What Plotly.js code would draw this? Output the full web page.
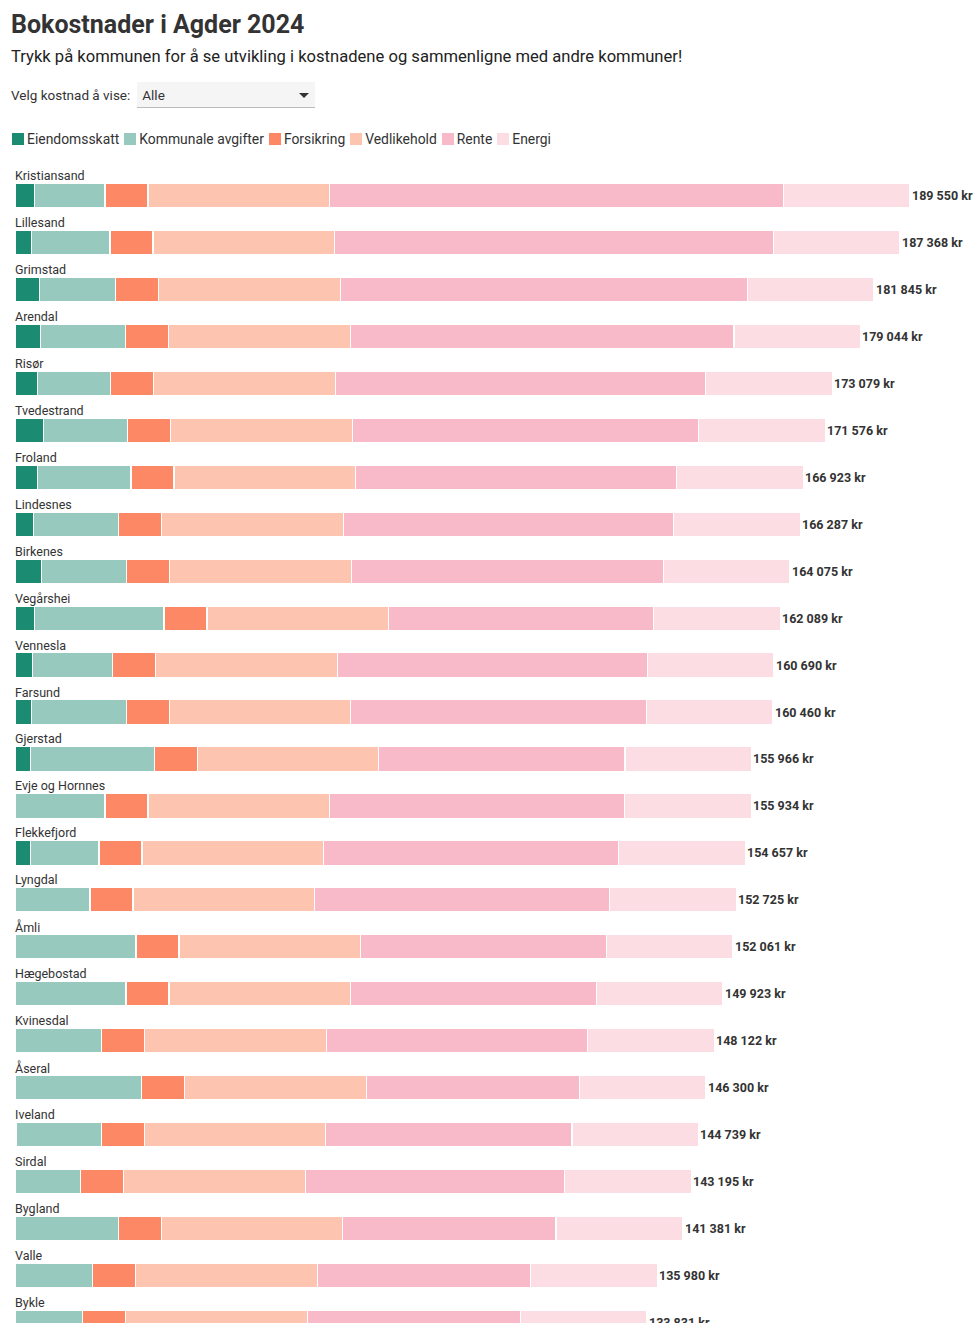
<!DOCTYPE html>
<html>
<head>
<meta charset="utf-8">
<script src="https://cdn.plot.ly/plotly-3.0.1.min.js"></script>
<style>
  html, body { margin: 0; padding: 0; background: #fff; overflow: hidden; }
  body { width: 980px; height: 1323px; position: relative; font-family: Roboto, "Noto Sans", sans-serif; color: #333; }
  #title { position: absolute; left: 11px; top: 9px; font-size: 25px; font-weight: 700; margin: 0; color: #333; line-height: 32px; }
  #sub { position: absolute; left: 11px; top: 46px; font-size: 16.6px; margin: 0; color: #222; line-height: 22px; }
  #ctl { position: absolute; left: 11px; top: 82px; height: 26px; display: flex; align-items: center; font-size: 13.5px; color: #333; }
  #sel { margin-left: 7px; width: 178px; height: 26px; background: #f5f5f5; border-bottom: 1px solid #bbb; box-sizing: border-box; position: relative; font-size: 13.5px; line-height: 26px; padding-left: 5px; }
  #sel .arr { position: absolute; right: 6px; top: 11px; width: 0; height: 0; border-left: 5px solid transparent; border-right: 5px solid transparent; border-top: 5px solid #333; }
  #legend { position: absolute; left: 12px; top: 131px; display: flex; font-size: 13.9px; color: #333; line-height: 16px; }
  #legend .it { display: flex; align-items: center; margin-right: 5px; }
  #legend .sw { width: 12px; height: 12px; margin-right: 3px; }
  #plot { position: absolute; left: 0; top: 0; width: 980px; height: 1367px; }
</style>
</head>
<body>
<div id="plot"></div>
<h1 id="title">Bokostnader i Agder 2024</h1>
<p id="sub">Trykk på kommunen for å se utvikling i kostnadene og sammenligne med andre kommuner!</p>
<div id="ctl">Velg kostnad å vise:<div id="sel">Alle<span class="arr"></span></div></div>
<div id="legend"></div>
<script>
const kommuner = ["Kristiansand","Lillesand","Grimstad","Arendal","Risør","Tvedestrand","Froland","Lindesnes","Birkenes","Vegårshei","Vennesla","Farsund","Gjerstad","Evje og Hornnes","Flekkefjord","Lyngdal","Åmli","Hægebostad","Kvinesdal","Åseral","Iveland","Sirdal","Bygland","Valle","Bykle"];

const eiendomsskatt = [4170,3430,5190,5400,4700,6040,4700,3850,5550,4190,3770,3560,3220,0,3280,0,0,0,0,0,250,0,0,0,0];
const kommunaleAvgifter = [14890,16690,16140,18050,15570,17830,19870,18110,18110,27360,16920,20010,26280,19060,14510,15890,25630,23510,18360,26830,18000,13920,21880,16460,14340];
const forsikring = [9100,9100,9100,9100,9100,9100,9100,9100,9100,9100,9100,9100,9100,9100,9100,9100,9100,9100,9100,9100,9100,9100,9100,9100,9100];
const vedlikehold = [38450,38450,38450,38450,38450,38450,38450,38450,38450,38450,38450,38450,38450,38450,38450,38450,38450,38450,38450,38450,38450,38450,38450,38450,38450];
const rente = [96140,92898,86165,81244,78459,73356,68003,69977,66065,56189,65650,62540,52116,62524,62517,62485,52081,52063,55412,45120,52139,54925,45151,45170,45141];
const energi = [26800,26800,26800,26800,26800,26800,26800,26800,26800,26800,26800,26800,26800,26800,26800,26800,26800,26800,26800,26800,26800,26800,26800,26800,26800];
const totaler = [189550,187368,181845,179044,173079,171576,166923,166287,164075,162089,160690,160460,155966,155934,154657,152725,152061,149923,148122,146300,144739,143195,141381,135980,133831];

const serier = [
  {navn: "Eiendomsskatt", verdier: eiendomsskatt, farge: "#1b8b71"},
  {navn: "Kommunale avgifter", verdier: kommunaleAvgifter, farge: "#98c9be"},
  {navn: "Forsikring", verdier: forsikring, farge: "#fd8866"},
  {navn: "Vedlikehold", verdier: vedlikehold, farge: "#fdc5af"},
  {navn: "Rente", verdier: rente, farge: "#f8b9c9"},
  {navn: "Energi", verdier: energi, farge: "#fcdde4"}
];

function fmt(n) { return String(n).replace(/\B(?=(\d{3})+(?!\d))/g, " "); }

const leg = document.getElementById("legend");
serier.forEach(s => {
  const it = document.createElement("div"); it.className = "it";
  const sw = document.createElement("div"); sw.className = "sw"; sw.style.background = s.farge;
  const t = document.createElement("span"); t.textContent = s.navn;
  it.appendChild(sw); it.appendChild(t); leg.appendChild(it);
});

const traces = serier.map(s => ({
  type: "bar",
  orientation: "h",
  name: s.navn,
  y: kommuner,
  x: s.verdier,
  marker: {color: s.farge, line: {color: "#ffffff", width: 1.2}},
  hovertemplate: "%{y}<br>" + s.navn + ": %{x} kr<extra></extra>"
}));

const annotations = [];
kommuner.forEach((k, i) => {
  annotations.push({
    x: 0, y: k, xref: "x", yref: "y", text: k, showarrow: false,
    xanchor: "left", yanchor: "middle", yshift: 20, xshift: -2,
    font: {size: 12.5, color: "#333", family: "Roboto, sans-serif"}
  });
  annotations.push({
    x: totaler[i], y: k, xref: "x", yref: "y", text: "<b>" + fmt(totaler[i]) + " kr</b>", showarrow: false,
    xanchor: "left", yanchor: "middle", xshift: 0,
    font: {size: 12.5, color: "#333", family: "Roboto, sans-serif"}
  });
});

const layout = {
  barmode: "stack",
  bargap: 0.48,
  showlegend: false,
  width: 980,
  height: 1367,
  margin: {l: 15, r: 5, t: 172, b: 14.5},
  paper_bgcolor: "rgba(0,0,0,0)",
  plot_bgcolor: "rgba(0,0,0,0)",
  font: {family: "Roboto, sans-serif", color: "#333"},
  xaxis: {range: [0, 203300], showgrid: false, zeroline: false, showticklabels: false, fixedrange: true},
  yaxis: {autorange: "reversed", showticklabels: false, showgrid: false, zeroline: false, fixedrange: true},
  annotations: annotations
};

Plotly.newPlot("plot", traces, layout, {displayModeBar: false});
</script>
</body>
</html>
